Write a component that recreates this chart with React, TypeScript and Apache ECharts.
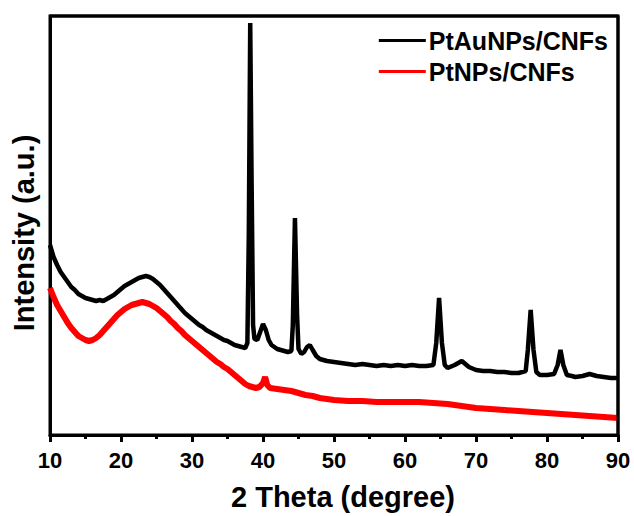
import React, { useEffect, useRef } from "react";
import * as echarts from "echarts";

const seriesNames = ["PtAuNPs/CNFs", "PtNPs/CNFs"];
const xTicks = [10, 20, 30, 40, 50, 60, 70, 80, 90];
const yMax = 419;

const ptAu: [number, number][] = [
  [10, 190], [10.5, 178], [11, 170], [11.5, 163], [12, 158], [12.5, 153], [13, 148], [13.5, 145],
  [14, 141], [14.5, 139], [15, 137], [15.5, 136], [16, 135], [16.5, 134], [17, 135], [17.5, 134],
  [18, 136], [18.5, 138], [19, 140], [19.5, 143], [20, 146], [20.5, 149], [21, 151], [21.5, 153],
  [22, 155], [22.5, 157], [23, 158], [23.5, 159], [24, 158], [24.5, 156], [25, 153], [25.5, 150],
  [26, 146], [26.5, 142], [27, 138], [27.5, 134], [28, 130], [28.5, 126], [29, 122], [29.5, 119],
  [30, 116], [30.5, 113], [31, 110], [31.5, 108], [32, 105], [32.5, 103], [33, 101], [33.5, 99],
  [34, 97], [34.5, 95], [35, 94], [35.5, 92], [36, 90], [36.5, 89], [37, 88], [37.5, 87],
  [37.8, 92], [38.0, 200], [38.2, 412], [38.4, 250], [38.6, 110], [38.8, 96], [39.2, 95],
  [39.6, 103], [40.0, 111], [40.4, 105], [40.8, 95], [41.2, 90], [41.6, 88], [42, 86], [42.5, 85],
  [43, 84], [43.5, 83], [44, 84], [44.2, 110], [44.5, 217], [44.8, 120], [45, 86], [45.4, 81],
  [45.8, 83], [46.2, 88], [46.6, 90], [47, 85], [47.5, 79], [48, 76], [48.5, 75], [49, 74],
  [50, 73], [51, 72], [52, 71], [53, 70], [54, 71], [55, 70], [56, 69], [57, 70], [58, 69],
  [59, 70], [60, 69], [61, 70], [62, 69], [63, 69], [64, 70], [64.4, 92], [64.8, 137],
  [65.2, 92], [65.6, 70], [66, 67], [67, 70], [68, 74], [69, 68], [70, 65], [71, 64], [72, 64],
  [73, 63], [74, 63], [75, 62], [76, 62], [77, 64], [77.3, 85], [77.7, 125], [78.1, 85],
  [78.5, 63], [79, 60], [80, 60], [81, 61], [81.5, 70], [81.9, 85], [82.3, 70], [82.8, 60],
  [83.5, 59], [84, 58], [85, 59], [86, 61], [87, 59], [88, 58], [89, 57], [90, 57],
];

const ptOnly: [number, number][] = [
  [10, 147], [10.5, 138], [11, 130], [11.5, 124], [12, 118], [12.5, 112], [13, 107], [13.5, 103],
  [14, 99], [14.5, 97], [15, 95], [15.5, 94], [16, 95], [16.5, 97], [17, 100], [17.5, 104],
  [18, 108], [18.5, 112], [19, 116], [19.5, 120], [20, 123], [20.5, 126], [21, 128], [21.5, 130],
  [22, 131], [22.5, 132], [23, 133], [23.5, 132], [24, 131], [24.5, 129], [25, 127], [25.5, 124],
  [26, 121], [26.5, 118], [27, 114], [27.5, 111], [28, 107], [28.5, 104], [29, 100], [29.5, 97],
  [30, 94], [30.5, 91], [31, 88], [31.5, 85], [32, 82], [32.5, 79], [33, 76], [33.5, 73],
  [34, 71], [34.5, 68], [35, 66], [35.5, 63], [36, 60], [36.5, 57], [37, 54], [37.5, 51],
  [38, 49], [38.5, 48], [39, 47], [39.5, 48], [40, 52], [40.3, 58], [40.6, 50], [41, 47],
  [42, 46], [43, 45], [44, 44], [45, 42], [46, 40], [47, 39], [48, 37], [49, 36], [50, 35],
  [52, 34], [54, 34], [56, 33], [58, 33], [60, 33], [62, 33], [64, 32], [66, 31], [68, 29],
  [70, 27], [72, 26], [74, 25], [76, 24], [78, 23], [80, 22], [82, 21], [84, 20], [86, 19],
  [88, 18], [90, 17],
];

const xMin = xTicks[0];
const xMax = xTicks[xTicks.length - 1];
const frameTrace: [number, number][] = [
  [xMin, yMax],
  [xMax, yMax],
  [xMax, 0],
];

const FONT = "'Liberation Sans', Arial, Helvetica, sans-serif";
const GRID = { left: 50, right: 16, top: 16, bottom: 81 };
const W = 634;
const H = 516;

export default function App() {
  const ref = useRef<HTMLDivElement>(null);
  useEffect(() => {
    if (!ref.current) return;
    const chart = echarts.init(ref.current, undefined, { renderer: "svg" });
    chart.setOption({
      animation: false,
      backgroundColor: "#fff",
      grid: {
        ...GRID,
        show: true,
        backgroundColor: "transparent",
        borderColor: "#000",
        borderWidth: 3,
        containLabel: false,
      },
      legend: {
        orient: "vertical",
        right: 21,
        top: 23,
        itemWidth: 47,
        itemHeight: 3,
        itemGap: 6,
        icon: "rect",
        data: seriesNames,
        textStyle: { fontFamily: FONT, fontWeight: "bold", fontSize: 25, color: "#000", padding: [0, 0, 0, -2] },
      },
      xAxis: {
        type: "value",
        min: xMin,
        max: xMax,
        interval: 10,
        name: "2 Theta (degree)",
        nameLocation: "middle",
        nameGap: 47,
        nameTextStyle: {
          fontFamily: FONT,
          fontWeight: "bold",
          fontSize: 29,
          color: "#000",
          padding: [0, 0, 0, 18],
        },
        axisLine: { show: true, onZero: false, lineStyle: { color: "#000", width: 3 } },
        axisTick: { show: true, inside: false, length: 7, lineStyle: { width: 3, color: "#000" } },
        minorTick: { show: true, splitNumber: 2, length: 4, lineStyle: { width: 3, color: "#000" } },
        splitLine: { show: false },
        axisLabel: {
          margin: 14,
          fontFamily: FONT,
          fontWeight: "bold",
          fontSize: 22,
          color: "#000",
        },
      },
      yAxis: {
        type: "value",
        min: 0,
        max: yMax,
        name: "Intensity (a.u.)",
        nameLocation: "middle",
        nameRotate: 90,
        nameGap: 12,
        nameTextStyle: {
          fontFamily: FONT,
          fontWeight: "bold",
          fontSize: 29,
          color: "#000",
          padding: [0, 15, 0, 0],
        },
        axisLine: { show: true, onZero: false, lineStyle: { color: "#000", width: 3 } },
        axisTick: { show: false },
        axisLabel: { show: false },
        splitLine: { show: false },
      },
      series: [
        {
          name: seriesNames[0],
          type: "line",
          data: ptAu,
          showSymbol: false,
          lineStyle: { color: "#000", width: 4.5 },
          itemStyle: { color: "#000" },
          z: 3,
        },
        {
          name: seriesNames[1],
          type: "line",
          data: ptOnly,
          showSymbol: false,
          lineStyle: { color: "#ff0000", width: 6 },
          itemStyle: { color: "#ff0000" },
          z: 2,
        },
        {
          name: "frame",
          type: "line",
          data: frameTrace,
          showSymbol: false,
          clip: false,
          silent: true,
          lineStyle: { color: "#000", width: 3 },
          itemStyle: { color: "#000" },
          z: 10,
        },
      ],
    });
    return () => chart.dispose();
  }, []);
  return (
    <div
      ref={ref}
      style={{ position: "fixed", left: 0, top: 0, width: W, height: H }}
    />
  );
}
